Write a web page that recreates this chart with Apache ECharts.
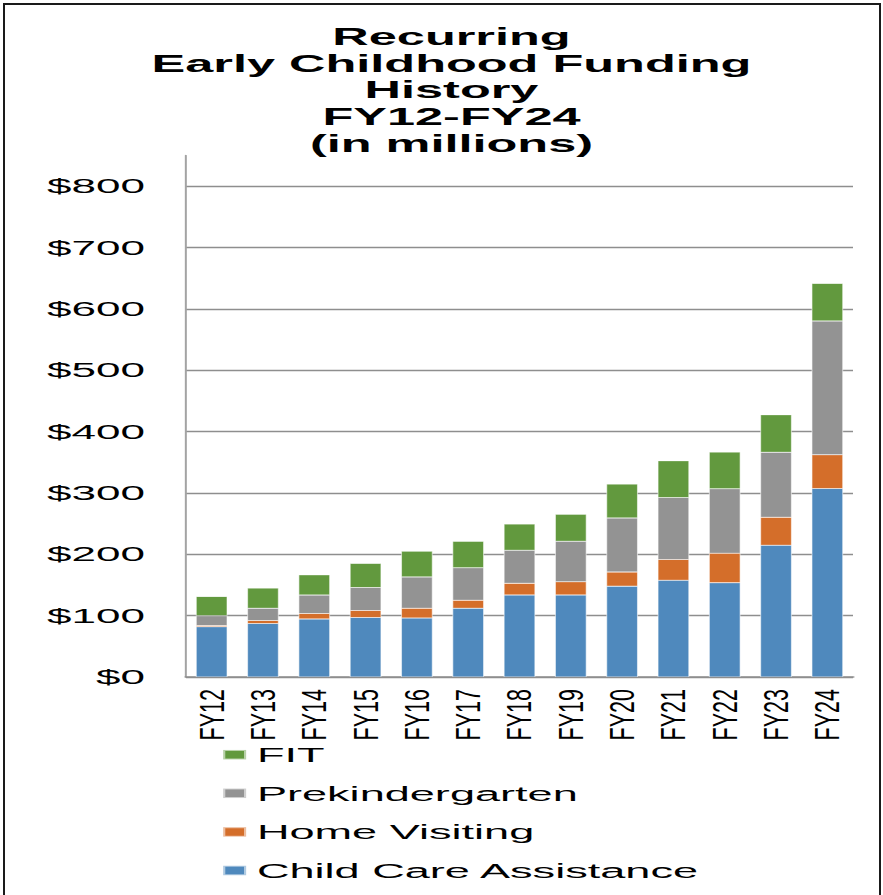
<!DOCTYPE html>
<html>
<head>
<meta charset="utf-8">
<script src="https://cdn.jsdelivr.net/npm/echarts@6/dist/echarts.min.js"></script>
<style>
html, body { margin: 0; padding: 0; background: #ffffff; overflow: hidden; }
#frame { position: absolute; left: 3px; top: 3px; width: 878px; height: 900px; border: 2px solid #1a1a1a; box-sizing: border-box; }
#chart { position: absolute; left: 0; top: 0; width: 411px; height: 895px; transform-origin: 0 0; transform: scaleX(2.148418); }
</style>
</head>
<body>
<div id="frame"></div>
<div id="chart"></div>
<script>
// ---- data ----
const categories = ['FY12', 'FY13', 'FY14', 'FY15', 'FY16', 'FY17', 'FY18', 'FY19', 'FY20', 'FY21', 'FY22', 'FY23', 'FY24'];
const childCareAssistance = [82, 87, 94.5, 97, 96, 112, 133.6, 133.6, 148, 157.5, 153.7, 214.6, 307];
const homeVisiting = [2, 5, 9, 11.5, 16, 13, 19, 21.7, 23, 34, 48, 45.6, 55];
const prekindergarten = [16, 20, 30, 37.5, 51, 53, 53.8, 65.8, 88, 101, 105, 106, 218];
const fit = [31, 33, 33, 39, 42, 43, 43, 44, 55.5, 60, 60, 61, 61];
const yTickValues = [0, 100, 200, 300, 400, 500, 600, 700, 800];
const titleLines = ['Recurring', 'Early Childhood Funding', 'History', 'FY12-FY24', '(in millions)'];
const legendNames = ['FIT', 'Prekindergarten', 'Home Visiting', 'Child Care Assistance'];

// ---- layout helpers ----
const K = 883 / 411; // horizontal stretch applied to the whole chart
const FONT = '"Liberation Sans", Arial, Helvetica, sans-serif';

const chart = echarts.init(document.getElementById('chart'), null, { renderer: 'svg' });

const gridColors = yTickValues.map(() => '#8e8e8e').concat(['rgba(0,0,0,0)']);

const barCommon = {
  type: 'bar',
  stack: 'total',
  barWidth: '62%',
  itemStyle: { borderColor: 'rgba(255,255,255,0.55)', borderWidth: 0.5 }
};

chart.setOption({
  animation: false,
  backgroundColor: 'transparent',
  title: {
    text: titleLines.join('\n'),
    left: 451.5 / K,
    top: 23.5,
    textAlign: 'center',
    padding: 0,
    textStyle: { fontFamily: FONT, fontWeight: 'bold', fontSize: 23.5, lineHeight: 26.6, color: '#000' }
  },
  grid: { left: 186 / K, right: 411 - 853 / K, top: 677 - 850 * 0.61375, bottom: 895 - 677, containLabel: false },
  legend: {
    orient: 'vertical',
    left: 221 / K,
    top: 744.2,
    padding: 0,
    itemWidth: 23 / K,
    itemHeight: 9.5,
    itemGap: 17.6,
    icon: 'rect',
    selectedMode: false,
    data: legendNames,
    textStyle: { fontFamily: FONT, fontSize: 21, lineHeight: 20, color: '#000' }
  },
  xAxis: {
    type: 'category',
    data: categories,
    axisLine: { show: true, lineStyle: { color: '#8e8e8e', width: 1.6 } },
    axisTick: { show: false },
    axisLabel: { show: false },
    splitLine: { show: false }
  },
  yAxis: {
    type: 'value',
    min: 0,
    max: 850,
    interval: 100,
    axisLine: { show: true, lineStyle: { color: '#a3a3a3', width: 2 / K } },
    axisTick: { show: false },
    axisLabel: {
      fontFamily: FONT,
      fontSize: 20.5,
      color: '#000',
      margin: 41 / K,
      showMaxLabel: false,
      formatter: function (v) { return yTickValues.indexOf(v) >= 0 ? '$' + v : ''; }
    },
    splitLine: { show: true, lineStyle: { color: gridColors, width: 1.3 } }
  },
  series: [
    Object.assign({ name: 'Child Care Assistance', data: childCareAssistance, color: '#4f89bd' }, barCommon),
    Object.assign({ name: 'Home Visiting', data: homeVisiting, color: '#d46e2a' }, barCommon),
    Object.assign({ name: 'Prekindergarten', data: prekindergarten, color: '#939393' }, barCommon),
    Object.assign({ name: 'FIT', data: fit, color: '#62993e' }, barCommon),
    {
      type: 'custom',
      name: 'categoryLabels',
      silent: true,
      clip: false,
      data: categories.map(function (c) { return [c, 0]; }),
      encode: { x: 0, y: 1 },
      z: 10,
      renderItem: function (params, api) {
        const p = api.coord([api.value(0), 0]);
        return {
          type: 'text',
          x: p[0],
          y: p[1] + 12,
          rotation: Math.PI / 2,
          scaleY: 1.6 / K,
          style: {
            text: categories[params.dataIndex],
            fontSize: 21.5,
            fontFamily: FONT,
            fill: '#000',
            align: 'right',
            verticalAlign: 'middle'
          }
        };
      }
    }
  ]
});
</script>
</body>
</html>
